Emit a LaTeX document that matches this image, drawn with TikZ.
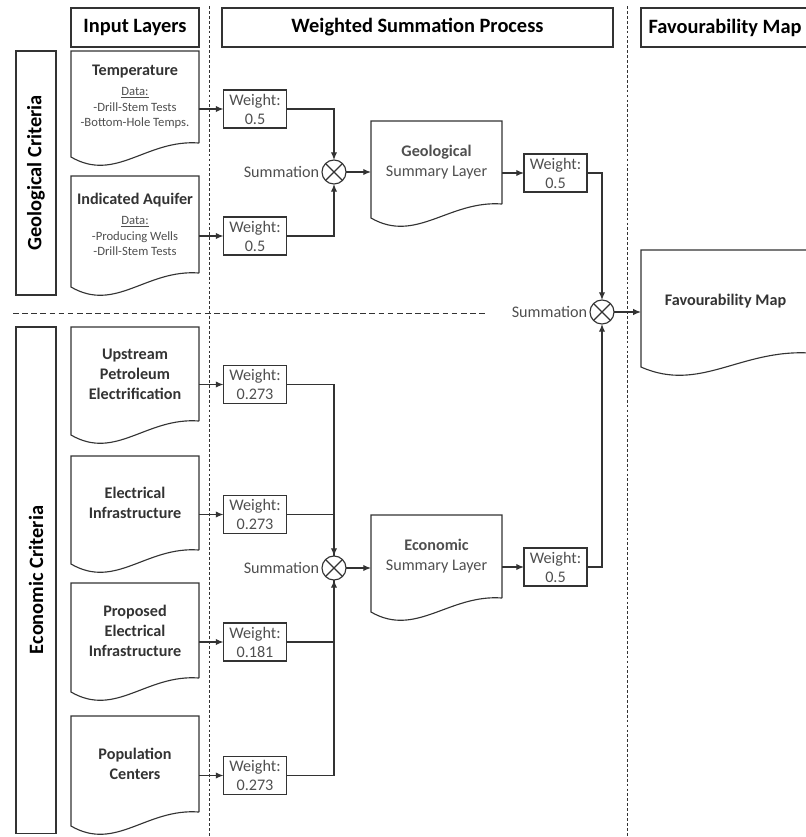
\documentclass[tikz,border=0pt]{standalone}
\usepackage{fontspec}
\setmainfont{Carlito}
\usetikzlibrary{arrows.meta, calc, positioning}
\definecolor{ink}{HTML}{333333}
\definecolor{inksoft}{HTML}{4F4F4F}
\newcommand{\datafont}{\fontsize{9}{12}\selectfont\mdseries\color{inksoft}}

\begin{document}
\begin{tikzpicture}[x=0.025cm, y=-0.025cm]
  \tikzstyle{every node} = [outer sep=0pt];
  \tikzstyle{header} = [draw=ink, line width=1pt, minimum height=0.975cm, font=\fontsize{14.5}{17}\selectfont\bfseries];
  \tikzstyle{criteria} = [draw=ink, line width=0.8pt, rotate=90, minimum height=1cm, font=\fontsize{14.5}{17}\selectfont\bfseries];
  \tikzstyle{inlayer} = [inner sep=0pt, minimum width=3.2cm, align=center, text=ink, font=\fontsize{11.5}{14.2}\selectfont\bfseries];
  \tikzstyle{summary} = [inner sep=0pt, minimum width=3.275cm, minimum height=2.075cm, align=center, text=inksoft, font=\fontsize{11.5}{14.2}\selectfont];
  \tikzstyle{wbox} = [draw=ink, line width=0.8pt, minimum width=1.575cm, minimum height=0.95cm, inner sep=0pt, align=center, text=inksoft, font=\fontsize{11.5}{13.5}\selectfont];
  \tikzstyle{sumnode} = [draw=ink, line width=0.8pt, circle, minimum size=0.6cm, inner sep=0pt,
    path picture={\draw[ink, line width=0.8pt] (path picture bounding box.north west) -- (path picture bounding box.south east)
      (path picture bounding box.north east) -- (path picture bounding box.south west);}];
  \tikzstyle{sumlabel} = [anchor=east, inner sep=2pt, text=inksoft, font=\fontsize{11.5}{14}\selectfont];
  \tikzstyle{wire} = [draw=ink, line width=0.8pt];
  \tikzstyle{arr} = [wire, -{Latex[length=5.5pt, width=4.5pt]}];
  \tikzstyle{divider} = [draw=ink, line width=0.6pt, dash pattern=on 2pt off 1.5pt];

  \useasboundingbox (0,0) rectangle (806,837);
  \clip (0,0) rectangle (806,837);

  % frame and column dividers
  \draw[ink, line width=0.55pt, double, double distance=0.8pt] (13,6) rectangle (830,835);
  \draw[divider] (209,6) -- (209,837);
  \draw[divider] (627,6) -- (627,837);
  \draw[divider, dash pattern=on 4pt off 2.5pt] (13,313) -- (487,313);

  % headers
  \node[header, minimum width=3.2cm] (hin) at (135,27.5) {Input Layers};
  \node[header, minimum width=9.775cm] (hws) at (417.5,27.5) {Weighted Summation Process};
  \node[header, minimum width=4.2cm] (hfav) at (725,27.5) {Favourability Map};

  % criteria
  \node[criteria, minimum width=6.1cm] (geo) at (36,173) {Geological Criteria};
  \node[criteria, minimum width=12.65cm] (eco) at (36,580) {Economic Criteria};

  % input layers
  \node[inlayer, minimum height=2.3cm] (temp) at (135,97)
    {Temperature\\ {\datafont\underline{Data:}}\\[-3pt] {\datafont -Drill-Stem Tests}\\[-3pt] {\datafont -Bottom-Hole Temps.}};
  \node[inlayer, minimum height=2.425cm] (aqui) at (135,224.5)
    {Indicated Aquifer\\ {\datafont\underline{Data:}}\\[-3pt] {\datafont -Producing Wells}\\[-3pt] {\datafont -Drill-Stem Tests}};
  \node[inlayer, minimum height=2.35cm] (ups) at (135,374) {Upstream\\Petroleum\\Electrification};
  \node[inlayer, minimum height=2.35cm] (elec) at (135,503) {Electrical\\Infrastructure};
  \node[inlayer, minimum height=2.375cm] (prop) at (135,630.5) {Proposed\\Electrical\\Infrastructure};
  \node[inlayer, minimum height=2.4cm] (pop) at (135,764) {Population\\Centers};

  % weights
  \node[wbox] (gw1) at (255,109) {Weight:\\0.5};
  \node[wbox] (gw2) at (255,236) {Weight:\\0.5};
  \node[wbox] (ew1) at (255,384.5) {Weight:\\0.273};
  \node[wbox] (ew2) at (255,514.5) {Weight:\\0.273};
  \node[wbox] (ew3) at (255,642) {Weight:\\0.181};
  \node[wbox] (ew4) at (255,775.5) {Weight:\\0.273};
  \node[wbox] (gws) at (555.5,173) {Weight:\\0.5};
  \node[wbox] (ews) at (555.5,567) {Weight:\\0.5};

  % summation
  \node[sumnode] (gsc) at (334,172) {};
  \node[sumnode] (esc) at (334,568) {};
  \node[sumnode] (fsc) at (602,312) {};
  \node[sumlabel] (gsl) at (gsc.west) {Summation};
  \node[sumlabel] (esl) at (esc.west) {Summation};
  \node[sumlabel] (fsl) at (fsc.west) {Summation};

  % summary layers and map
  \node[summary] (gsum) at (436.5,162.5) {\textbf{Geological}\\Summary Layer};
  \node[summary] (esum) at (436.5,556.5) {\textbf{Economic}\\Summary Layer};
  \node[inlayer, minimum width=4.225cm, minimum height=2.575cm] (fav) at (725.5,301.5) {Favourability Map};

  % document outlines
  \foreach \n in {temp, aqui, ups, elec, prop, pop, gsum, esum}
    \draw[wire] (\n.south east) -- (\n.north east) -- (\n.north west) -- ($(\n.south west)+(0,14)$)
      .. controls +(45,26) and +(-53,-4) .. (\n.south east);
  \draw[wire] (fav.south east) -- (fav.north east) -- (fav.north west) -- ($(fav.south west)+(0,14)$)
    .. controls +(59,26) and +(-70,-4) .. (fav.south east);

  % inputs to weights
  \draw[arr] (temp.east |- gw1) -- (gw1);
  \draw[arr] (aqui.east |- gw2) -- (gw2);
  \draw[arr] (ups.east |- ew1) -- (ew1);
  \draw[arr] (elec.east |- ew2) -- (ew2);
  \draw[arr] (prop.east |- ew3) -- (ew3);
  \draw[arr] (pop.east |- ew4) -- (ew4);

  % geological branch
  \draw[arr] (gw1) -| (gsc);
  \draw[arr] (gw2) -| (gsc);
  \draw[arr] (gsc) -- (gsc -| gsum.west);
  \draw[arr] (gsum.east |- gws) -- (gws);
  \draw[arr] (gws) -| (fsc);

  % economic branch
  \draw[arr] (ew1) -| (esc);
  \draw[wire] (ew2) -| (esc);
  \draw[arr] (ew3) -| (esc);
  \draw[wire] (ew4) -| (esc);
  \draw[arr] (esc) -- (esc -| esum.west);
  \draw[arr] (esum.east |- ews) -- (ews);
  \draw[arr] (ews) -| (fsc);

  \draw[arr] (fsc) -- (fsc -| fav.west);
\end{tikzpicture}
\end{document}
